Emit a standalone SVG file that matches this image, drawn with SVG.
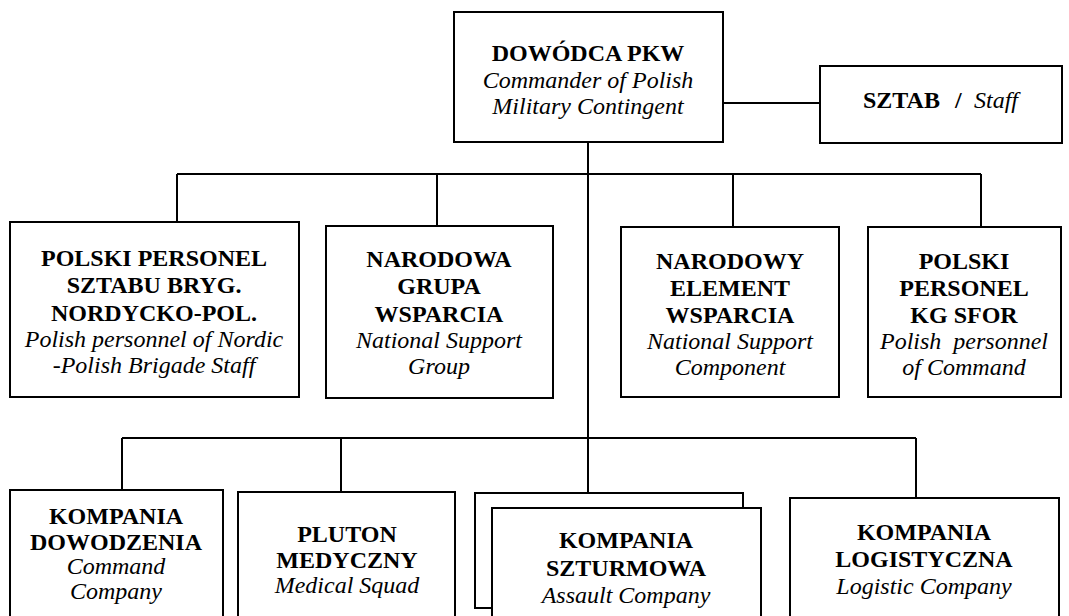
<svg xmlns="http://www.w3.org/2000/svg" width="1069" height="616" viewBox="0 0 1069 616">
<style>
.box{fill:#fff;stroke:#000;stroke-width:2}
.ln{fill:none;stroke:#000;stroke-width:2}
text{font-family:"Liberation Serif","Times New Roman",serif;font-size:24px;fill:#000;text-anchor:middle}
.b{font-weight:bold}
.i{font-style:italic}
</style>
<rect width="1069" height="616" fill="#fff"/>
<g id="connectors">
<path class="ln" d="M723 103H820"/>
<path class="ln" d="M588 142V493"/>
<path class="ln" d="M177 174H981M177 174V222M437 174V226M733 174V227M981 174V227"/>
<path class="ln" d="M122 438H916M122 438V490M341 438V492M916 438V498"/>
</g>
<g id="dowodca">
<rect class="box" x="454" y="12" width="269" height="130"/>
<text x="588" y="61" class="b">DOWÓDCA PKW</text>
<text x="588" y="88" class="i">Commander of Polish</text>
<text x="588" y="114" class="i">Military Contingent</text>
</g>
<g id="sztab">
<rect class="box" x="820" y="66" width="242" height="77"/>
<text x="863" y="108" class="b" style="text-anchor:start">SZTAB</text>
<text x="955" y="108" class="b" style="text-anchor:start">/</text>
<text x="974" y="108" class="i" style="text-anchor:start">Staff</text>
</g>
<g id="polski-personel-sztabu">
<rect class="box" x="10" y="222" width="289" height="175"/>
<text x="154" y="266" class="b">POLSKI PERSONEL</text>
<text x="154" y="293" class="b">SZTABU BRYG.</text>
<text x="154" y="321" class="b">NORDYCKO-POL.</text>
<text x="154" y="347" class="i">Polish personnel of Nordic</text>
<text x="154" y="373" class="i">-Polish Brigade Staff</text>
</g>
<g id="narodowa-grupa">
<rect class="box" x="326" y="226" width="227" height="172"/>
<text x="439" y="267" class="b">NARODOWA</text>
<text x="439" y="294" class="b">GRUPA</text>
<text x="439" y="322" class="b">WSPARCIA</text>
<text x="439" y="348" class="i">National Support</text>
<text x="439" y="374" class="i">Group</text>
</g>
<g id="narodowy-element">
<rect class="box" x="621" y="227" width="218" height="170"/>
<text x="730" y="269" class="b">NARODOWY</text>
<text x="730" y="296" class="b">ELEMENT</text>
<text x="730" y="323" class="b">WSPARCIA</text>
<text x="730" y="349" class="i">National Support</text>
<text x="730" y="375" class="i">Component</text>
</g>
<g id="polski-personel-kg">
<rect class="box" x="868" y="227" width="193" height="170"/>
<text x="964" y="269" class="b">POLSKI</text>
<text x="964" y="296" class="b">PERSONEL</text>
<text x="964" y="323" class="b">KG SFOR</text>
<text x="964" y="349" class="i" xml:space="preserve">Polish  personnel</text>
<text x="964" y="375" class="i">of Command</text>
</g>
<g id="kompania-dowodzenia">
<rect class="box" x="10" y="490" width="213" height="150"/>
<text x="116" y="524" class="b">KOMPANIA</text>
<text x="116" y="550" class="b">DOWODZENIA</text>
<text x="116" y="574" class="i">Command</text>
<text x="116" y="599" class="i">Company</text>
</g>
<g id="pluton-medyczny">
<rect class="box" x="238" y="492" width="217" height="150"/>
<text x="347" y="542" class="b">PLUTON</text>
<text x="347" y="568" class="b">MEDYCZNY</text>
<text x="347" y="593" class="i">Medical Squad</text>
</g>
<g id="kompania-szturmowa">
<rect class="box" x="475" y="493" width="268" height="115"/>
<rect class="box" x="492" y="508" width="269" height="140"/>
<text x="626" y="548" class="b">KOMPANIA</text>
<text x="626" y="576" class="b">SZTURMOWA</text>
<text x="626" y="603" class="i">Assault Company</text>
</g>
<g id="kompania-logistyczna">
<rect class="box" x="790" y="498" width="269" height="150"/>
<text x="924" y="540" class="b">KOMPANIA</text>
<text x="924" y="567" class="b">LOGISTYCZNA</text>
<text x="924" y="594" class="i">Logistic Company</text>
</g>
</svg>
